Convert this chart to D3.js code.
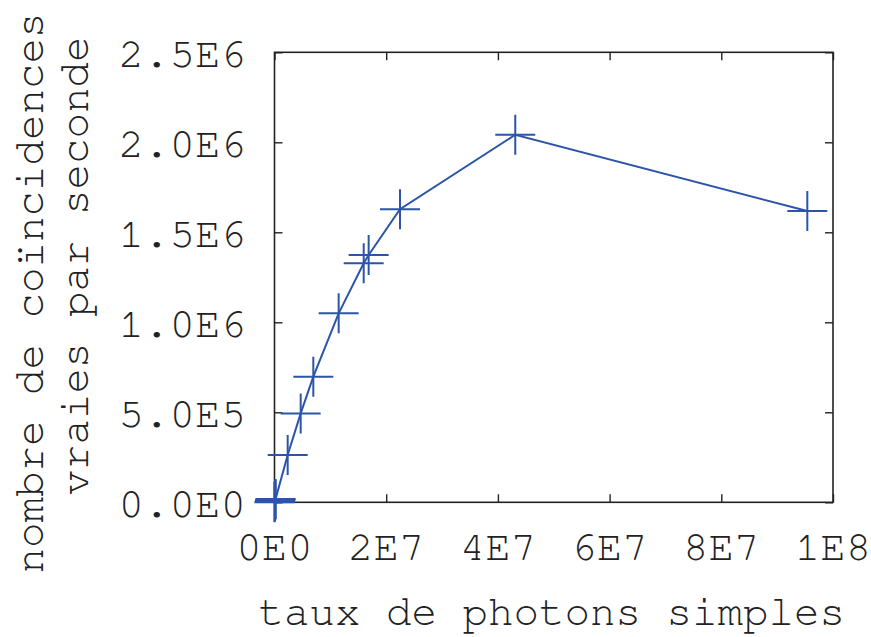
<!DOCTYPE html>
<html>
<head>
<meta charset="utf-8">
<script src="https://cdn.jsdelivr.net/npm/d3@7"></script>
<style>
  html, body { margin: 0; padding: 0; background: #fff; }
  svg { display: block; }
  text { font-family: "Nimbus Mono PS", "Nimbus Mono L", FreeMono, Courier, "Courier New", "Liberation Mono", monospace; fill: #222; }
</style>
</head>
<body>
<svg id="chart" width="871" height="637"></svg>
<script>
// Single-photon rate (counts/s) against true coincidences per second
const singlesRate = [0, 4e4, 8e4, 1.2e5, 1.6e5, 2e5, 2.36e6, 4.69e6, 6.95e6, 1.149e7, 1.597e7, 1.686e7, 2.247e7, 4.311e7, 9.54e7];
const trueCoincidences = [0, 3e3, 7e3, 1.1e4, 1.5e4, 1.9e4, 2.63e5, 4.94e5, 6.98e5, 1.05e6, 1.328e6, 1.374e6, 1.628e6, 2.042e6, 1.618e6];

const xTickValues = [0, 2e7, 4e7, 6e7, 8e7, 1e8];
const xTickLabels = ["0E0", "2E7", "4E7", "6E7", "8E7", "1E8"];
const yTickValues = [0, 5e5, 1e6, 1.5e6, 2e6, 2.5e6];
const yTickLabels = ["0.0E0", "5.0E5", "1.0E6", "1.5E6", "2.0E6", "2.5E6"];

const xTitle = "taux de photons simples";
const yTitleLines = ["nombre de coïncidences", "vraies par seconde"];

const plot = { left: 274.5, right: 833, top: 52.3, bottom: 502.3 };
const color = "#2c55a8";
const fontSize = 42.5;

const svg = d3.select("#chart");

const x = d3.scaleLinear().domain([0, 1e8]).range([plot.left, plot.right]);
const y = d3.scaleLinear().domain([0, 2.5e6]).range([plot.bottom, plot.top]);

const tickLen = 8;

// Frame with inward ticks on all four sides
const frame = svg.append("g");
frame.append("rect")
  .attr("x", plot.left).attr("y", plot.top)
  .attr("width", plot.right - plot.left).attr("height", plot.bottom - plot.top)
  .attr("fill", "none").attr("stroke", "#222").attr("stroke-width", 1.6);

const axisBottom = d3.axisBottom(x).tickValues(xTickValues).tickSize(-tickLen).tickFormat("");
const axisTop = d3.axisTop(x).tickValues(xTickValues).tickSize(-tickLen).tickFormat("");
const axisLeft = d3.axisLeft(y).tickValues(yTickValues).tickSize(-tickLen).tickFormat("");
const axisRight = d3.axisRight(y).tickValues(yTickValues).tickSize(-tickLen).tickFormat("");

function styleAxis(g) {
  g.select(".domain").remove();
  g.selectAll(".tick line").attr("stroke", "#222").attr("stroke-width", 1.4);
}
frame.append("g").attr("transform", `translate(0,${plot.bottom})`).call(axisBottom).call(styleAxis);
frame.append("g").attr("transform", `translate(0,${plot.top})`).call(axisTop).call(styleAxis);
frame.append("g").attr("transform", `translate(${plot.left},0)`).call(axisLeft).call(styleAxis);
frame.append("g").attr("transform", `translate(${plot.right},0)`).call(axisRight).call(styleAxis);

// Tick labels
svg.append("g").selectAll("text")
  .data(xTickValues)
  .join("text")
  .attr("x", d => x(d))
  .attr("y", 560)
  .attr("text-anchor", "middle")
  .attr("font-size", fontSize)
  .text((d, i) => xTickLabels[i]);

svg.append("g").selectAll("text")
  .data(yTickValues)
  .join("text")
  .attr("x", 246)
  .attr("y", d => y(d) + 14.4)
  .attr("text-anchor", "end")
  .attr("font-size", fontSize)
  .text((d, i) => yTickLabels[i]);

// Axis titles
svg.append("text")
  .attr("x", (plot.left + plot.right) / 2 - 2)
  .attr("y", 625)
  .attr("text-anchor", "middle")
  .attr("font-size", fontSize)
  .text(xTitle);

const yTitlePos = [{ bx: 43, cy: 293 }, { bx: 88, cy: 266 }];
svg.append("g").selectAll("text")
  .data(yTitleLines)
  .join("text")
  .attr("transform", (d, i) => `translate(${yTitlePos[i].bx},${yTitlePos[i].cy}) rotate(-90)`)
  .attr("text-anchor", "middle")
  .attr("font-size", fontSize)
  .text(d => d);

// Data line
const pts = singlesRate.map((v, i) => [v, trueCoincidences[i]]);
svg.append("path")
  .datum(pts)
  .attr("fill", "none")
  .attr("stroke", color)
  .attr("stroke-width", 2)
  .attr("d", d3.line().x(d => x(d[0])).y(d => y(d[1])));

// Plus markers
const arm = 20;
const marks = svg.append("g").attr("stroke", color).attr("stroke-width", 2);
marks.selectAll("path")
  .data(pts)
  .join("path")
  .attr("d", d => {
    const cx = x(d[0]), cy = y(d[1]);
    return `M${cx - arm},${cy}H${cx + arm}M${cx},${cy - arm}V${cy + arm}`;
  });
</script>
</body>
</html>
